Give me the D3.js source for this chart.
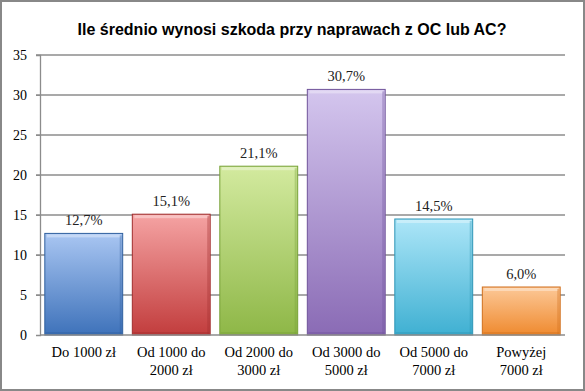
<!DOCTYPE html>
<html><head><meta charset="utf-8">
<script src="https://cdn.jsdelivr.net/npm/d3@7"></script>
<style>body{margin:0;background:#fff}svg{display:block}</style>
</head><body>
<svg id="c" width="585" height="391"></svg>
<script>
const title = "Ile średnio wynosi szkoda przy naprawach z OC lub AC?";
const categories = [["Do 1000 zł"],["Od 1000 do","2000 zł"],["Od 2000 do","3000 zł"],["Od 3000 do","5000 zł"],["Od 5000 do","7000 zł"],["Powyżej","7000 zł"]];
const values = [12.7, 15.1, 21.1, 30.7, 14.5, 6.0];
const valueLabels = ["12,7%","15,1%","21,1%","30,7%","14,5%","6,0%"];
const yTicks = [0,5,10,15,20,25,30,35];
const topColors = ["#a9c6f2","#f5a3a3","#d3ea9f","#d4c6ee","#ade6f8","#fcc897"];
const bottomColors = ["#3e72ba","#c23d3d","#8eb747","#8a6bb5","#3fb0d2","#ef8a2f"];
const edgeColors = ["#2f5f9e","#a02d2d","#76a036","#6f539a","#2c94b5","#d06f1c"];

const svg = d3.select("#c");
const W=585,H=391, L=40,R=565,T=55,B=335;
svg.append("rect").attr("x",1).attr("y",1).attr("width",W-2).attr("height",H-2)
  .attr("fill","#fff").attr("stroke","#888").attr("stroke-width",2);

svg.append("text").attr("x",292).attr("y",35).attr("text-anchor","middle")
  .attr("font-family","Liberation Sans, Arial, sans-serif").attr("font-weight","bold")
  .attr("font-size",16).attr("fill","#000").text(title);

const x = d3.scaleBand().domain(d3.range(values.length)).range([L,R]).paddingInner(0.11).paddingOuter(0.055);
const y = d3.scaleLinear().domain([0,35]).range([B,T]);

const defs = svg.append("defs");
values.forEach((v,i)=>{
  const g = defs.append("linearGradient").attr("id","g"+i).attr("x1",0).attr("y1",0).attr("x2",0).attr("y2",1);
  g.append("stop").attr("offset","0%").attr("stop-color",topColors[i]);
  g.append("stop").attr("offset","100%").attr("stop-color",bottomColors[i]);
});

// gridlines
svg.append("g").selectAll("line").data(yTicks.slice(1)).join("line")
  .attr("x1",L-4).attr("x2",R).attr("y1",d=>y(d)).attr("y2",d=>y(d))
  .attr("stroke","#8c8c8c").attr("stroke-width",1.3);

// y axis
const ya = svg.append("g").attr("transform",`translate(${L},0)`)
  .call(d3.axisLeft(y).tickValues(yTicks).tickSize(4).tickPadding(9));
ya.select(".domain").attr("stroke","#8c8c8c").attr("stroke-width",1.3);
ya.selectAll(".tick line").attr("stroke","#8c8c8c");
ya.selectAll("text").attr("font-family","Liberation Serif, Cambria, serif").attr("font-size",14).attr("fill","#000");

// bars
const bars = svg.append("g").selectAll("g").data(values).join("g");
bars.append("rect")
  .attr("x",(d,i)=>x(i)).attr("width",x.bandwidth())
  .attr("y",d=>y(d)).attr("height",d=>y(0)-y(d))
  .attr("fill",(d,i)=>`url(#g${i})`).attr("stroke",(d,i)=>edgeColors[i]).attr("stroke-width",1);
// bevel highlights
bars.append("rect")
  .attr("x",(d,i)=>x(i)+2).attr("width",x.bandwidth()-4)
  .attr("y",d=>y(d)+1).attr("height",3)
  .attr("fill","#fff").attr("opacity",0.35);
bars.append("rect")
  .attr("x",(d,i)=>x(i)+x.bandwidth()-3).attr("width",2)
  .attr("y",d=>y(d)+2).attr("height",d=>y(0)-y(d)-3)
  .attr("fill",(d,i)=>edgeColors[i]).attr("opacity",0.35);
bars.append("rect")
  .attr("x",(d,i)=>x(i)+1).attr("width",x.bandwidth()-2)
  .attr("y",d=>y(0)-3).attr("height",2)
  .attr("fill",(d,i)=>edgeColors[i]).attr("opacity",0.4);

// value labels
svg.append("g").selectAll("text").data(values).join("text")
  .attr("x",(d,i)=>x(i)+x.bandwidth()/2).attr("y",d=>y(d)-8)
  .attr("text-anchor","middle").attr("font-family","Liberation Serif, Cambria, serif")
  .attr("font-size",14.5).attr("fill","#222").text((d,i)=>valueLabels[i]);

// bottom axis line
svg.append("line").attr("x1",L).attr("x2",R).attr("y1",B).attr("y2",B)
  .attr("stroke","#8c8c8c").attr("stroke-width",1.3);

// category labels
const cl = svg.append("g").selectAll("text").data(categories).join("text")
  .attr("text-anchor","middle").attr("font-family","Liberation Serif, Cambria, serif")
  .attr("font-size",14.5).attr("fill","#000");
cl.each(function(lines,i){
  const t=d3.select(this);
  lines.forEach((s,j)=>t.append("tspan").attr("x",x(i)+x.bandwidth()/2).attr("y",357+j*17.5).text(s));
});
</script>
</body></html>
